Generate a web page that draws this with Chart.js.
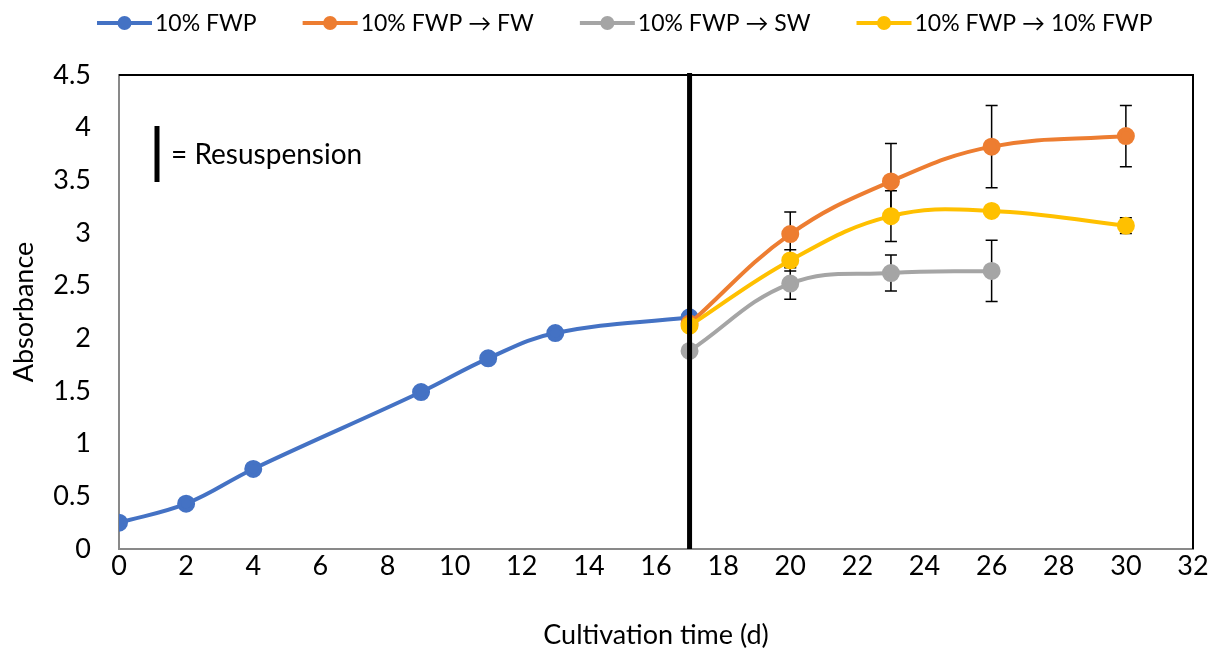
<!DOCTYPE html>
<html lang="en">
<head>
<meta charset="UTF-8" />
<title>Absorbance over cultivation time</title>
<script src="https://cdn.jsdelivr.net/npm/chart.js"></script>
<style>
  body { margin: 0; background: #fff; }
  .chart-box { width: 1212px; height: 653px; }
</style>
</head>
<body>
<div class="chart-box"><canvas id="absChart"></canvas></div>
<script>
  // Series names and colours
  const seriesNames = ['10% FWP', '10% FWP \u2192 FW', '10% FWP \u2192 SW', '10% FWP \u2192 10% FWP'];
  const seriesColors = ['#4472C4', '#ED7D31', '#A5A5A5', '#FFC000'];

  // Growth before resuspension
  const fwpDays = [0, 2, 4, 9, 11, 13, 17];
  const fwpValues = [0.25, 0.43, 0.76, 1.49, 1.81, 2.05, 2.20];

  // After resuspension (day 17)
  const fwDays = [17, 20, 23, 26, 30];
  const fwValues = [2.14, 2.99, 3.49, 3.82, 3.92];
  const fwErrors = [0, 0.21, 0.36, 0.39, 0.29];

  const swDays = [17, 20, 23, 26];
  const swValues = [1.88, 2.52, 2.62, 2.64];
  const swErrors = [0, 0.15, 0.17, 0.29];

  const fwpFwpDays = [17, 20, 23, 26, 30];
  const fwpFwpValues = [2.12, 2.74, 3.16, 3.21, 3.07];
  const fwpFwpErrors = [0, 0.10, 0.24, 0.04, 0.075];

  const resuspensionDay = 17;
  const resuspensionLabel = '= Resuspension';

  const FONT = 'Lato, "Open Sans", sans-serif';

  function points(days, values) {
    return days.map((d, i) => ({ x: d, y: values[i] }));
  }

  function makeSeries(i, days, values, errors, order) {
    return {
      label: seriesNames[i],
      data: points(days, values),
      errorBars: errors,
      borderColor: seriesColors[i],
      backgroundColor: seriesColors[i],
      pointBackgroundColor: seriesColors[i],
      pointBorderColor: seriesColors[i],
      borderWidth: 4,
      pointRadius: 7,
      pointHoverRadius: 7,
      tension: 0.4,
      order: order
    };
  }

  // error bars go under the markers
  const errorBarPlugin = {
    id: 'errorBars',
    beforeDatasetsDraw(chart) {
      const ctx = chart.ctx;
      const xs = chart.scales.x, ys = chart.scales.y;
      ctx.save();
      ctx.strokeStyle = '#000';
      ctx.lineWidth = 1.5;
      chart.data.datasets.forEach(ds => {
        if (!ds.errorBars) return;
        ds.data.forEach((p, i) => {
          const e = ds.errorBars[i];
          if (!e) return;
          const px = xs.getPixelForValue(p.x);
          const top = ys.getPixelForValue(p.y + e);
          const bot = ys.getPixelForValue(p.y - e);
          ctx.beginPath();
          ctx.moveTo(px, top); ctx.lineTo(px, bot);
          ctx.moveTo(px - 6, top); ctx.lineTo(px + 6, top);
          ctx.moveTo(px - 6, bot); ctx.lineTo(px + 6, bot);
          ctx.stroke();
        });
      });
      ctx.restore();
    }
  };

  // frame, resuspension marker and key
  const decorPlugin = {
    id: 'decor',
    afterDatasetsDraw(chart) {
      const ctx = chart.ctx;
      const a = chart.chartArea;
      const x17 = chart.scales.x.getPixelForValue(resuspensionDay);
      ctx.save();
      ctx.strokeStyle = '#000';
      ctx.lineWidth = 2;
      ctx.beginPath();
      ctx.moveTo(a.left, a.top); ctx.lineTo(a.right, a.top); ctx.lineTo(a.right, a.bottom);
      ctx.stroke();

      ctx.lineWidth = 5;
      ctx.beginPath();
      ctx.moveTo(x17, a.top - 2); ctx.lineTo(x17, a.bottom);
      ctx.stroke();

      ctx.beginPath();
      ctx.moveTo(a.left + 38, a.top + 51); ctx.lineTo(a.left + 38, a.top + 107);
      ctx.stroke();
      ctx.fillStyle = '#000';
      ctx.font = '28px ' + FONT;
      ctx.textBaseline = 'middle';
      ctx.fillText(resuspensionLabel, a.left + 52, a.top + 80);
      ctx.restore();
    }
  };

  // legend row across the top
  const legendPlugin = {
    id: 'topLegend',
    afterDraw(chart) {
      const ctx = chart.ctx;
      ctx.save();
      ctx.font = '23px ' + FONT;
      ctx.textBaseline = 'middle';
      let x = 97;
      const y = 23;
      chart.data.datasets.forEach((ds, i) => {
        ctx.strokeStyle = seriesColors[i];
        ctx.fillStyle = seriesColors[i];
        ctx.lineWidth = 4;
        ctx.beginPath();
        ctx.moveTo(x, y); ctx.lineTo(x + 55, y);
        ctx.stroke();
        ctx.beginPath();
        ctx.arc(x + 27.5, y, 7, 0, Math.PI * 2);
        ctx.fill();
        ctx.fillStyle = '#000';
        ctx.fillText(ds.label, x + 58, y + 1);
        x += 58 + ctx.measureText(ds.label).width + 46;
      });
      ctx.restore();
    }
  };

  const chart = new Chart(document.getElementById('absChart'), {
    type: 'line',
    data: {
      datasets: [
        makeSeries(0, fwpDays, fwpValues, null, 3),
        makeSeries(1, fwDays, fwValues, fwErrors, 2),
        makeSeries(2, swDays, swValues, swErrors, 1),
        makeSeries(3, fwpFwpDays, fwpFwpValues, fwpFwpErrors, 0)
      ]
    },
    options: {
      responsive: true,
      maintainAspectRatio: false,
      animation: false,
      layout: { padding: { top: 75, right: 19, left: 0, bottom: 0 } },
      plugins: {
        legend: { display: false },
        tooltip: { enabled: false }
      },
      scales: {
        x: {
          type: 'linear',
          min: 0, max: 32,
          ticks: { stepSize: 2, color: '#000', font: { family: FONT, size: 27 }, padding: 1 },
          grid: { display: false, drawTicks: false },
          border: { display: true, color: '#898989', width: 2 },
          title: { display: true, text: 'Cultivation time (d)', color: '#000', font: { family: FONT, size: 27 }, padding: { top: 4, bottom: 2 } },
          afterFit(scale) { scale.height = 104; }
        },
        y: {
          min: 0, max: 4.5,
          ticks: {
            stepSize: 0.5, color: '#000', font: { family: FONT, size: 27 }, padding: 28,
            callback: v => String(v)
          },
          grid: { display: false, drawTicks: false },
          border: { display: true, color: '#898989', width: 2 },
          title: { display: true, text: 'Absorbance', color: '#000', font: { family: FONT, size: 27 }, padding: { top: 8, bottom: 4 } },
          afterFit(scale) { scale.width = 119; }
        }
      }
    },
    plugins: [errorBarPlugin, decorPlugin, legendPlugin]
  });
</script>
</body>
</html>
